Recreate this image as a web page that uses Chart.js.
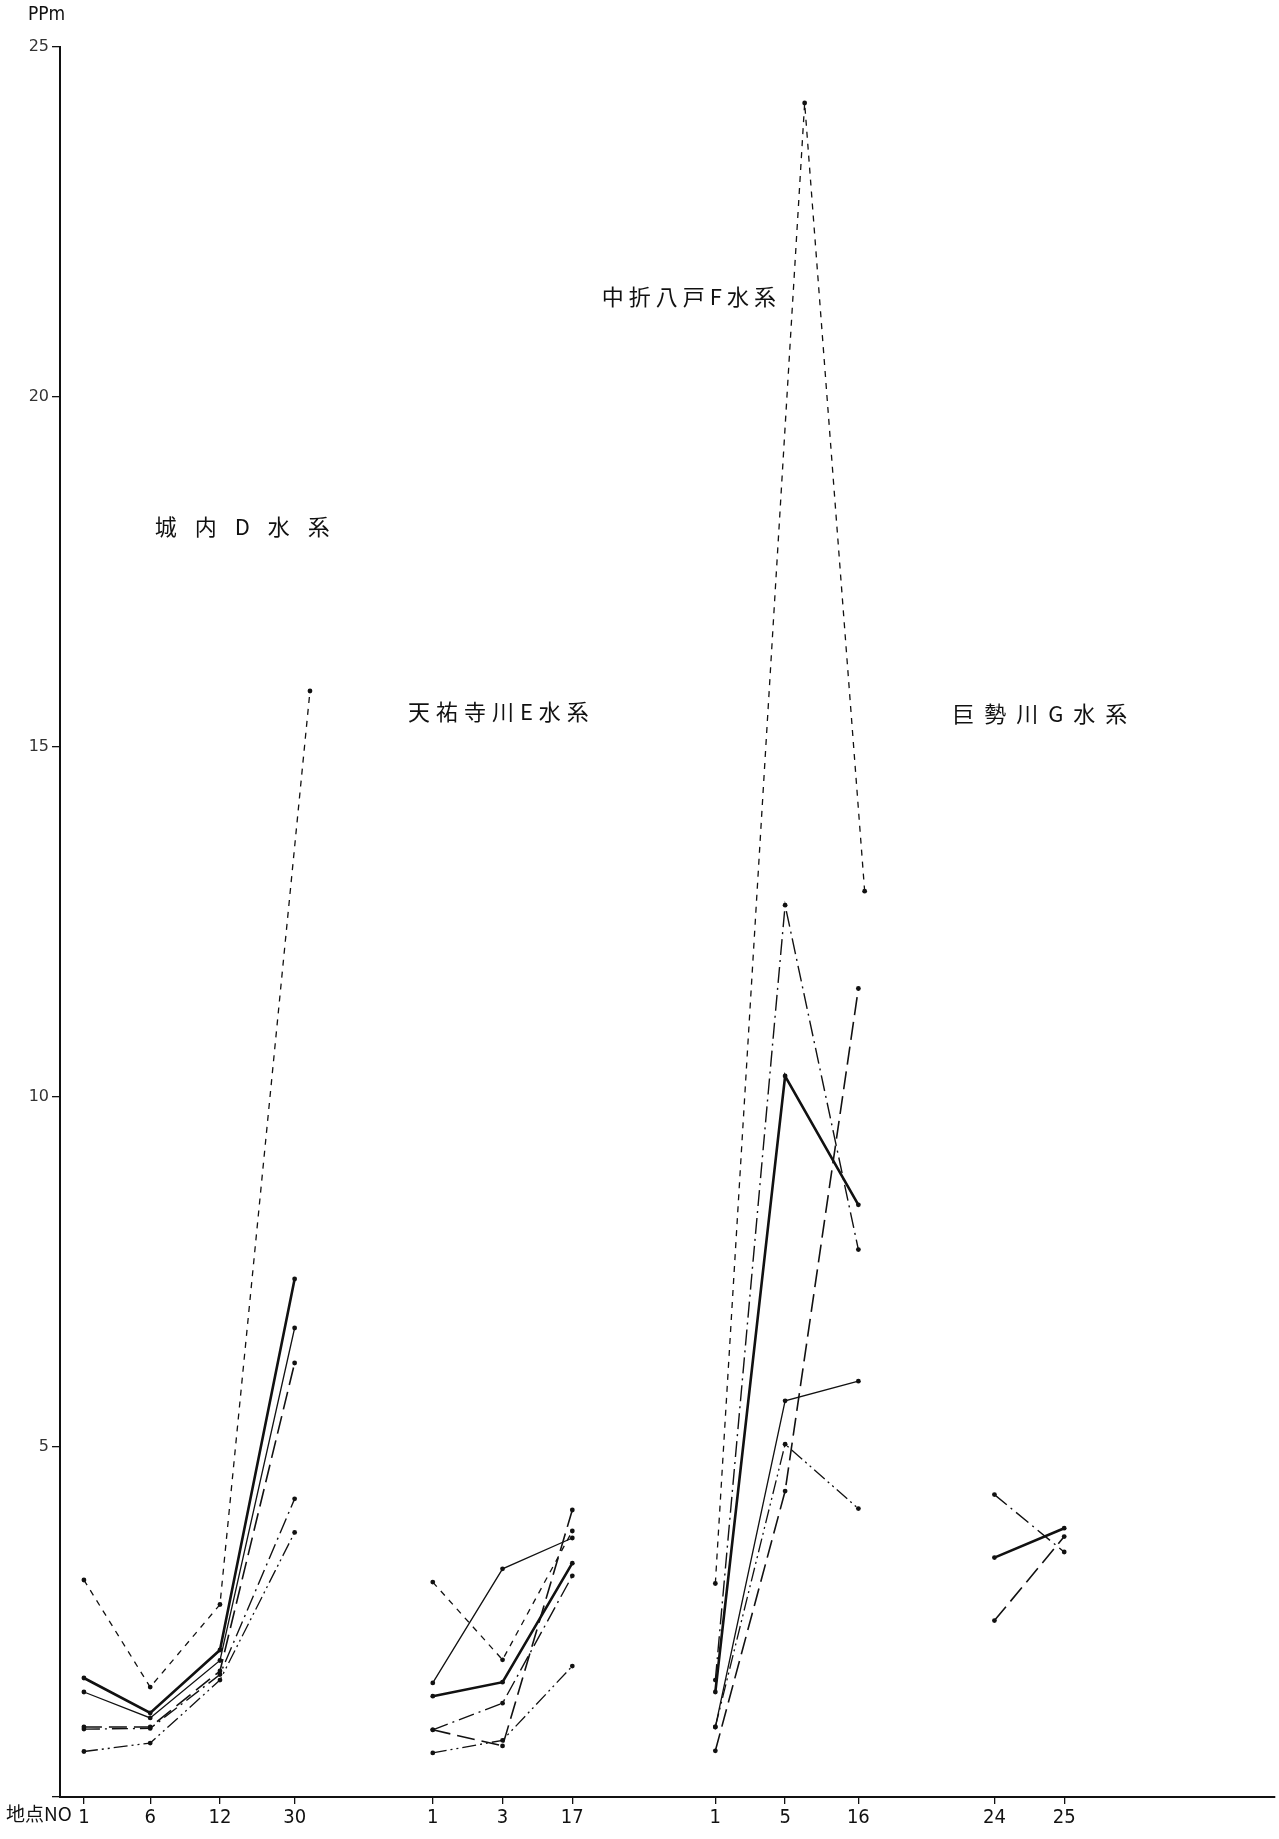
<!DOCTYPE html>
<html lang="ja">
<head>
<meta charset="utf-8">
<title>水系別 地点濃度</title>
<script src="https://cdn.jsdelivr.net/npm/chart.js@4.4.1/dist/chart.umd.min.js"></script>
<style>
  html, body { margin: 0; padding: 0; background: #fff; }
  #wrap { width: 1279px; height: 1839px; position: relative; }
  canvas { display: block; }
</style>
</head>
<body>
<div id="wrap"><canvas id="c" width="1279" height="1839"></canvas></div>
<script>
// Sampling stations along the x axis (labels and their positions in station slots)
const stationLabels = ['1', '6', '12', '30', '1', '3', '17', '1', '5', '16', '24', '25'];
const stationPos    = [0, 0.95, 1.95, 3.02, 5, 6, 7, 9.05, 10.05, 11.1, 13.05, 14.05];
// The short-dash survey was plotted slightly to the right at a few stations
const shortDashPos  = [0, 0.95, 1.95, 3.24, 5, 6, 7, 9.05, 10.33, 11.19, 13.05, 14.05];

// Station index ranges of each river system
const groupD = [0, 1, 2, 3];     // 城内 D 水系
const groupE = [4, 5, 6];        // 天祐寺川E水系
const groupF = [7, 8, 9];        // 中折八戸F水系
const groupG = [10, 11];         // 巨勢川G水系

// Concentrations (ppm) per survey, one value per station (null = not measured)
const seriesShortDash  = [3.10, 1.57, 2.75, 15.8,  3.07, 1.96, 3.80,  3.05, 24.2, 12.94, null, null];
const seriesThickSolid = [1.70, 1.20, 2.10, 7.40,  1.44, 1.64, 3.34,  1.50, 10.3, 8.46,  3.42, 3.84];
const seriesThinSolid  = [1.50, 1.13, 1.95, 6.70,  1.63, 3.26, 3.70,  1.00, 5.66, 5.94,  null, null];
const seriesLongDash   = [1.00, 1.00, 1.80, 6.20,  0.96, 0.73, 4.10,  0.66, 4.37, 11.55, 2.52, 3.72];
const seriesDashDot    = [0.97, 0.98, 1.75, 4.26,  0.96, 1.34, 3.16,  1.67, 12.74, 7.82, 4.32, 3.50];
const seriesDashDotDot = [0.65, 0.77, 1.67, 3.78,  0.63, 0.81, 1.87,  1.00, 5.04, 4.12,  null, null];

// Y axis
const yMin = 0, yMax = 25, yStep = 5;

// Group captions: [text, station slot, ppm, letter spacing]
const captions = [
  ['城内D水系',     2.27, 18.15, 18],
  ['天祐寺川E水系', 5.94, 15.50, 6],
  ['中折八戸F水系', 8.67, 21.43, 5],
  ['巨勢川G水系',   13.70, 15.47, 10]
];

const groups = [groupD, groupE, groupF, groupG];

function buildPoints(values, pos) {
  const pts = [];
  groups.forEach(g => {
    g.forEach(i => { if (values[i] !== null) pts.push({ x: pos[i], y: values[i] }); });
    pts.push({ x: pos[g[g.length - 1]] + 0.5, y: null }); // break between systems
  });
  return pts;
}

const styles = [
  { values: seriesShortDash,  pos: shortDashPos, width: 1.3, dash: [6, 6] },
  { values: seriesThickSolid, pos: stationPos,   width: 2.6, dash: [] },
  { values: seriesThinSolid,  pos: stationPos,   width: 1.3, dash: [] },
  { values: seriesLongDash,   pos: stationPos,   width: 1.6, dash: [18, 7] },
  { values: seriesDashDot,    pos: stationPos,   width: 1.4, dash: [16, 5, 2, 5] },
  { values: seriesDashDotDot, pos: stationPos,   width: 1.3, dash: [14, 4, 2, 4, 2, 4] }
];

const datasets = styles.map(s => ({
  data: buildPoints(s.values, s.pos),
  showLine: true,
  spanGaps: false,
  borderColor: '#111',
  backgroundColor: '#111',
  borderWidth: s.width,
  borderDash: s.dash,
  pointRadius: 2.4,
  pointBorderWidth: 0,
  pointBackgroundColor: '#111',
  tension: 0
}));

// Chart area geometry (pixels)
const AXIS_LEFT = 60;
const AXIS_BOTTOM_H = 42;
const TOP_PAD = 47;
const SLOT_PX = 70;
const FIRST_SLOT_PX = 84;
const xMin = -(FIRST_SLOT_PX - AXIS_LEFT) / SLOT_PX;
const xMax = xMin + (1279 - AXIS_LEFT) / SLOT_PX;

const captionPlugin = {
  id: 'captions',
  afterDraw(chart) {
    const { ctx, scales: { x, y } } = chart;
    ctx.save();
    ctx.fillStyle = '#111';
    ctx.textBaseline = 'middle';
    ctx.font = '22px "Noto Sans CJK JP"';
    captions.forEach(([text, sx, sy, gap]) => {
      const chars = Array.from(text);
      const widths = chars.map(ch => ctx.measureText(ch).width);
      const total = widths.reduce((a, b) => a + b, 0) + gap * (chars.length - 1);
      let px = x.getPixelForValue(sx) - total / 2;
      const py = y.getPixelForValue(sy);
      chars.forEach((ch, k) => {
        ctx.textAlign = 'left';
        ctx.fillText(ch, px, py);
        px += widths[k] + gap;
      });
    });
    // unit above the y axis
    ctx.font = '19px "DejaVu Sans Condensed", "DejaVu Sans"';
    ctx.textAlign = 'left';
    ctx.fillText('PPm', 28, 15);
    // x axis title next to the first station number
    ctx.font = '19px "Noto Sans CJK JP"';
    ctx.textAlign = 'right';
    ctx.textBaseline = 'top';
    ctx.fillText('地点NO', x.getPixelForValue(stationPos[0]) - 12, x.bottom - 35);
    ctx.restore();
  }
};

new Chart(document.getElementById('c'), {
  type: 'scatter',
  data: { datasets },
  plugins: [captionPlugin],
  options: {
    responsive: false,
    animation: false,
    devicePixelRatio: 1,
    layout: { padding: { top: TOP_PAD, right: 0, bottom: 0, left: 0 } },
    plugins: { legend: { display: false }, tooltip: { enabled: false } },
    scales: {
      x: {
        type: 'linear',
        min: xMin,
        max: xMax,
        afterFit(s) { s.height = AXIS_BOTTOM_H; },
        afterBuildTicks(s) { s.ticks = stationPos.map(v => ({ value: v })); },
        ticks: {
          autoSkip: false,
          maxRotation: 0,
          padding: 2,
          color: '#111',
          font: { family: '"DejaVu Sans Condensed", "DejaVu Sans"', size: 20 },
          callback: (v, i) => stationLabels[i]
        },
        grid: { drawOnChartArea: false, drawTicks: true, tickLength: 7, color: '#111', lineWidth: 1.3 },
        border: { display: true, color: '#111', width: 2 }
      },
      y: {
        type: 'linear',
        min: yMin,
        max: yMax,
        afterFit(s) { s.width = AXIS_LEFT; },
        ticks: {
          stepSize: yStep,
          padding: 3,
          color: '#333',
          font: { family: '"DejaVu Sans"', size: 16 },
          callback: v => (v === 0 ? '' : String(v))
        },
        grid: { drawOnChartArea: false, drawTicks: true, tickLength: 8, color: '#111', lineWidth: 1.3 },
        border: { display: true, color: '#111', width: 2 }
      }
    }
  }
});
</script>
</body>
</html>
